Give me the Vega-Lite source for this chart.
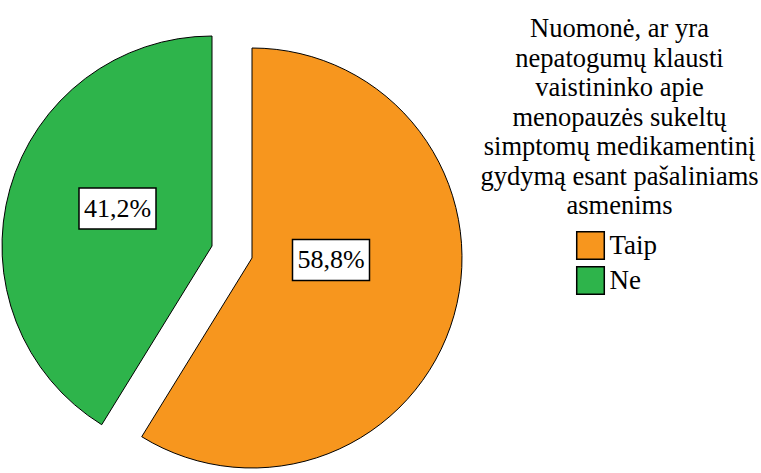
{
  "$schema": "https://vega.github.io/schema/vega-lite/v6.json",
  "width": 464,
  "height": 473,
  "padding": 0,
  "autosize": {"type": "pad"},
  "background": "white",
  "view": {"stroke": null},
  "data": {
    "values": [
      {"answer": "Taip", "percent": 58.8, "label": "58,8%"},
      {"answer": "Ne", "percent": 41.2, "label": "41,2%"}
    ]
  },
  "transform": [
    {"stack": "percent", "groupby": [], "as": ["p0", "p1"], "sort": [{"field": "percent", "order": "descending"}]}
  ],
  "layer": [
    {
      "transform": [{"filter": "datum.answer === 'Taip'"}],
      "mark": {"type": "arc", "radius": 210, "stroke": "black", "strokeWidth": 1, "xOffset": 20, "yOffset": 21.5},
      "encoding": {
        "theta": {"field": "p0", "type": "quantitative", "scale": {"domain": [0, 100]}},
        "theta2": {"field": "p1"},
        "color": {
          "field": "answer", "type": "nominal",
          "scale": {"domain": ["Taip", "Ne"], "range": ["#F7961E", "#2EB44B"]},
          "legend": {
            "orient": "none", "legendX": 480.5, "legendY": 16,
            "title": ["Nuomonė, ar yra", "nepatogumų klausti", "vaistininko apie", "menopauzės sukeltų", "simptomų medikamentinį", "gydymą esant pašaliniams", "asmenims"],
            "titleFont": "Liberation Serif, serif", "titleFontSize": 26.5, "titleFontWeight": "normal", "titleColor": "black",
            "titleLineHeight": 29.5, "titleAlign": "center", "titleAnchor": "middle", "titlePadding": 11, "titleLimit": 500,
            "labelFont": "Liberation Serif, serif", "labelFontSize": 27, "labelColor": "black", "labelOffset": 4, "labelLimit": 300,
            "symbolType": "square", "symbolSize": 760, "symbolStrokeColor": "black", "symbolStrokeWidth": 1.5,
            "symbolOpacity": 1, "symbolOffset": -6, "rowPadding": 1, "padding": 0
          }
        }
      }
    },
    {
      "transform": [{"filter": "datum.answer === 'Ne'"}],
      "mark": {"type": "arc", "radius": 210, "stroke": "black", "strokeWidth": 1, "xOffset": -20, "yOffset": 9.5},
      "encoding": {
        "theta": {"field": "p0", "type": "quantitative", "scale": {"domain": [0, 100]}},
        "theta2": {"field": "p1"},
        "color": {"field": "answer", "type": "nominal", "scale": {"domain": ["Taip", "Ne"], "range": ["#F7961E", "#2EB44B"]}}
      }
    },
    {
      "transform": [{"filter": "datum.answer === 'Taip'"}],
      "mark": {"type": "point", "shape": "M-1,-0.532H1V0.532H-1Z", "size": 5929, "filled": true, "fill": "white", "stroke": "black", "strokeWidth": 1.5, "opacity": 1, "xOffset": 99, "yOffset": 23.5},
      "encoding": {}
    },
    {
      "transform": [{"filter": "datum.answer === 'Ne'"}],
      "mark": {"type": "point", "shape": "M-1,-0.532H1V0.532H-1Z", "size": 5929, "filled": true, "fill": "white", "stroke": "black", "strokeWidth": 1.5, "opacity": 1, "xOffset": -114.5, "yOffset": -28},
      "encoding": {}
    },
    {
      "transform": [{"filter": "datum.answer === 'Taip'"}],
      "mark": {"type": "text", "font": "Liberation Serif, serif", "fontSize": 26, "color": "black", "align": "center", "baseline": "middle", "xOffset": 99, "yOffset": 23.5},
      "encoding": {"text": {"field": "label"}}
    },
    {
      "transform": [{"filter": "datum.answer === 'Ne'"}],
      "mark": {"type": "text", "font": "Liberation Serif, serif", "fontSize": 26, "color": "black", "align": "center", "baseline": "middle", "xOffset": -114.5, "yOffset": -28},
      "encoding": {"text": {"field": "label"}}
    }
  ]
}
